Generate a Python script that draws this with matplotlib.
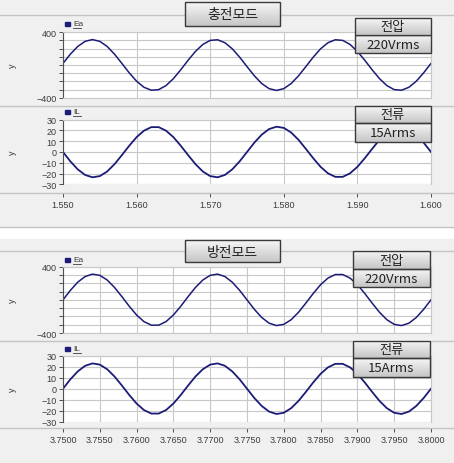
import numpy as np
import matplotlib
matplotlib.use('Agg')
import matplotlib.pyplot as plt
from matplotlib.ticker import MultipleLocator, FixedLocator

plt.rcParams['font.family'] = ['Liberation Sans', 'Noto Sans CJK KR', 'DejaVu Sans']

W, H = 454, 464

# sample times, 1 ms steps
t_charge = np.linspace(1.550, 1.600, 51)
t_dis = np.linspace(3.750, 3.800, 51)

# charge mode (충전모드)
ea_charge = [19.5, 132.4, 226.7, 289.2, 311.0, 289.2, 226.7, 132.4, 19.5, -96.1,
             -198.2, -272.5, -308.5, -301.2, -251.6, -166.6, -58.3, 58.3, 166.6, 251.6,
             301.2, 308.5, 272.5, 198.2, 96.1, -19.5, -132.4, -226.7, -289.2, -311.0,
             -289.2, -226.7, -132.4, -19.5, 96.1, 198.2, 272.5, 308.5, 301.2, 251.6,
             166.6, 58.3, -58.3, -166.6, -251.6, -301.2, -308.5, -272.5, -198.2, -96.1,
             19.5]
il_charge = [0.0, -8.7, -16.1, -21.3, -23.5, -22.4, -18.1, -11.3, -2.9, 5.8,
             13.8, 19.8, 23.1, 23.1, 19.8, 13.8, 5.8, -2.9, -11.3, -18.1,
             -22.4, -23.5, -21.3, -16.1, -8.7, 0.0, 8.7, 16.1, 21.3, 23.5,
             22.4, 18.1, 11.3, 2.9, -5.8, -13.8, -19.8, -23.1, -23.1, -19.8,
             -13.8, -5.8, 2.9, 11.3, 18.1, 22.4, 23.5, 21.3, 16.1, 8.7,
             0.0]

# discharge mode (방전모드)
ea_dis = [0.0, 114.5, 212.9, 281.4, 310.4, 295.8, 239.6, 149.8, 39.0, -77.3,
          -182.8, -262.6, -305.5, -305.5, -262.6, -182.8, -77.3, 39.0, 149.8, 239.6,
          295.8, 310.4, 281.4, 212.9, 114.5, 0.0, -114.5, -212.9, -281.4, -310.4,
          -295.8, -239.6, -149.8, -39.0, 77.3, 182.8, 262.6, 305.5, 305.5, 262.6,
          182.8, 77.3, -39.0, -149.8, -239.6, -295.8, -310.4, -281.4, -212.9, -114.5,
          0.0]
il_dis = [0.0, 8.5, 15.7, 20.8, 23.0, 21.9, 17.7, 11.1, 2.9, -5.7,
          -13.5, -19.4, -22.6, -22.6, -19.4, -13.5, -5.7, 2.9, 11.1, 17.7,
          21.9, 23.0, 20.8, 15.7, 8.5, 0.0, -8.5, -15.7, -20.8, -23.0,
          -21.9, -17.7, -11.1, -2.9, 5.7, 13.5, 19.4, 22.6, 22.6, 19.4,
          13.5, 5.7, -2.9, -11.1, -17.7, -21.9, -23.0, -20.8, -15.7, -8.5,
          0.0]

modes = ['충전모드', '방전모드']
volt_text = ['전압', '220Vrms']
curr_text = ['전류', '15Arms']
charge_ticks = [1.550, 1.560, 1.570, 1.580, 1.590, 1.600]
dis_ticks = [3.7500, 3.7550, 3.7600, 3.7650, 3.7700, 3.7750, 3.7800, 3.7850, 3.7900, 3.7950, 3.8000]

NAVY = '#1c1c78'
GRID = '#c8c8c8'
PANE = '#f0f0f0'
SEP = '#c4c4c4'
TXT = '#3c3c3c'

fig = plt.figure(figsize=(W / 100, H / 100), dpi=100, facecolor='white')


def px_axes(x0, y0, x1, y1, z=1):
    return fig.add_axes([x0 / W, 1 - y1 / H, (x1 - x0) / W, (y1 - y0) / H], zorder=z)


bg = px_axes(0, 0, W, H, z=0)
bg.set_xlim(0, W)
bg.set_ylim(H, 0)
bg.axis('off')

top = px_axes(0, 0, W, H, z=10)
top.set_xlim(0, W)
top.set_ylim(H, 0)
top.axis('off')
top.patch.set_alpha(0)

grad = np.linspace(0, 1, 32).reshape(-1, 1)


def button(x0, y0, x1, y1, text, fs=9.5):
    top.imshow(grad, cmap=plt.matplotlib.colors.LinearSegmentedColormap.from_list(
        'b', ['#f6f6f6', '#c6c6c6']), extent=[x0, x1, y1, y0], aspect='auto', zorder=2)
    top.add_patch(plt.Rectangle((x0, y0), x1 - x0, y1 - y0, fill=False,
                                ec='#3a3a3a', lw=1.0, zorder=3))
    top.text((x0 + x1) / 2, (y0 + y1) / 2 + 0.5, text, ha='center', va='center',
             fontsize=fs, color='#222222', zorder=4,
             family=['Noto Sans CJK KR', 'DejaVu Sans'])


def legend(x, y, name):
    top.add_patch(plt.Rectangle((x - 3, y - 1.8), 5, 3.6, color=NAVY, zorder=3))
    top.text(x + 5, y, name, fontsize=6, color=TXT, va='center', ha='left', zorder=3)
    top.plot([x + 5, x + 5 + 4.2 * len(name)], [y + 4, y + 4], color=TXT, lw=0.6, zorder=3)


groups = [
    dict(y0=0, y1=228, seps=[16, 107, 194], va=(33.3, 98.7), ia=(120.7, 185.3),
         t=t_charge, ea=ea_charge, il=il_charge, ticks=charge_ticks, fmt='{:.3f}',
         title=(185, 3, 280, 27), vb=(354.7, 19, 431, 35.7, 54), ib=(354.7, 107, 431, 124, 143),
         leg=(25, 113)),
    dict(y0=240, y1=H, seps=[252, 342, 429.3], va=(267.7, 334.0), ia=(356.7, 422.7),
         t=t_dis, ea=ea_dis, il=il_dis, ticks=dis_ticks, fmt='{:.4f}',
         title=(185, 241, 280, 263), vb=(352.7, 251.7, 430, 270, 288), ib=(352.7, 341.7, 430, 359.3, 377.7),
         leg=(261, 350)),
]

bg.add_patch(plt.Rectangle((0, 0), W, 228, color=PANE))
bg.add_patch(plt.Rectangle((0, 240), W, H - 240, color=PANE))
bg.plot([0, W], [228, 228], color=SEP, lw=1)

for i, g in enumerate(groups):
    for s in g['seps']:
        bg.plot([0, W], [s, s], color=SEP, lw=1)

    # voltage pane
    av = px_axes(63, g['va'][0], 431, g['va'][1])
    av.plot(g['t'], g['ea'], color=NAVY, lw=1.1)
    av.set_xlim(g['ticks'][0], g['ticks'][-1])
    av.set_ylim(-400, 400)
    av.xaxis.set_major_locator(FixedLocator(g['ticks']))
    av.set_xticklabels([])
    av.yaxis.set_major_locator(FixedLocator([-400, 400]))
    av.yaxis.set_minor_locator(MultipleLocator(100))
    av.grid(True, which='both', color=GRID, lw=0.8)
    av.tick_params(axis='x', length=0)
    av.tick_params(axis='y', which='both', length=3, width=0.7, color='#505050',
                   labelsize=6.5, labelcolor=TXT, pad=1.5)

    # current pane
    ai = px_axes(63, g['ia'][0], 431, g['ia'][1])
    ai.plot(g['t'], g['il'], color=NAVY, lw=1.3)
    ai.set_xlim(g['ticks'][0], g['ticks'][-1])
    ai.set_ylim(-30, 30)
    ai.xaxis.set_major_locator(FixedLocator(g['ticks']))
    ai.set_xticklabels([g['fmt'].format(v) for v in g['ticks']])
    ai.yaxis.set_major_locator(MultipleLocator(10))
    ai.grid(True, color=GRID, lw=0.8)
    ai.tick_params(axis='y', length=3, width=0.7, color='#505050',
                   labelsize=6.5, labelcolor=TXT, pad=1.5)
    ai.tick_params(axis='x', length=3, width=0.7, color='#505050', direction='out',
                   labelsize=6.5, labelcolor=TXT, pad=2)
    ai.spines['bottom'].set_position(('outward', (g['seps'][2] - g['ia'][1]) * 0.72))
    ai.spines['bottom'].set_color(SEP)

    for ax in (av, ai):
        for side in ('top', 'right'):
            ax.spines[side].set_color(GRID)
        ax.spines['left'].set_color('#505050')
        ax.spines['left'].set_linewidth(0.8)
        if ax is av:
            ax.spines['bottom'].set_color(GRID)

    for ya in (g['va'], g['ia']):
        fig.text(12 / W, 1 - (ya[0] + ya[1]) / 2 / H, 'y', rotation=90, fontsize=6.5,
                 color=TXT, ha='center', va='center')

    legend(68, g['leg'][0], 'Ea')
    legend(68, g['leg'][1], 'IL')

    tx = g['title']
    button(tx[0], tx[1], tx[2], tx[3], modes[i], fs=10)
    vb = g['vb']
    button(vb[0], vb[1], vb[2], vb[3], volt_text[0])
    button(vb[0], vb[3], vb[2], vb[4], volt_text[1])
    ib = g['ib']
    button(ib[0], ib[1], ib[2], ib[3], curr_text[0])
    button(ib[0], ib[3], ib[2], ib[4], curr_text[1])

top.set_xlim(0, W)
top.set_ylim(H, 0)

fig.savefig('out.png', dpi=100, facecolor='white')
